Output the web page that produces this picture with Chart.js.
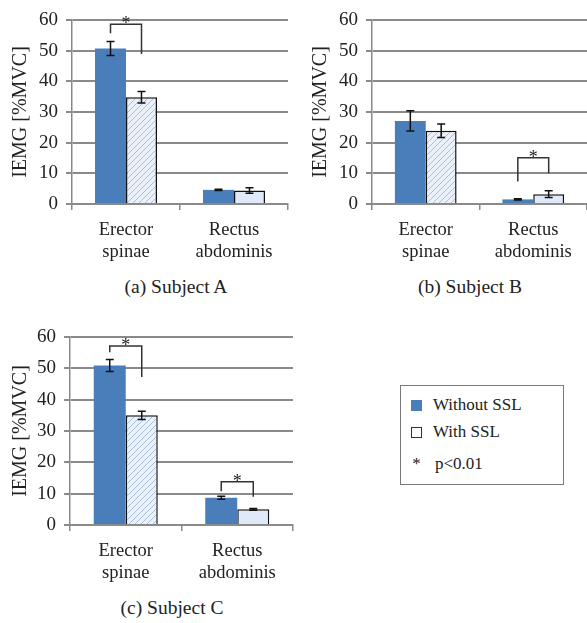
<!DOCTYPE html>
<html>
<head>
<meta charset="utf-8">
<script src="https://cdn.jsdelivr.net/npm/chart.js@4/dist/chart.umd.min.js"></script>
<style>
  body { margin: 0; background: #fff; font-family: "Liberation Serif", "Times New Roman", serif; color: #222; }
  .wrap { position: relative; width: 587px; height: 623px; overflow: hidden; }
  .wrap canvas { position: absolute; }
  .sub { position: absolute; font-size: 19.5px; line-height: 22px; text-align: center; width: 200px; }
  .legend { position: absolute; left: 400px; top: 385px; width: 164px; height: 100px; border: 1.5px solid #7a7a7a; box-sizing: border-box; font-size: 17px; }
  .legend .row { position: absolute; left: 10px; display: flex; align-items: center; }
  .legend .sw { width: 11px; height: 11px; margin-right: 11px; box-sizing: border-box; }
</style>
</head>
<body>
<div class="wrap">
  <canvas id="chartA" style="left:0;top:0"></canvas>
  <canvas id="chartB" style="left:300px;top:0"></canvas>
  <canvas id="chartC" style="left:0;top:317px"></canvas>
  <div class="sub" style="left:76px;top:276px">(a) Subject A</div>
  <div class="sub" style="left:370px;top:276px">(b) Subject B</div>
  <div class="sub" style="left:72px;top:597px">(c) Subject C</div>
  <div class="legend">
    <div class="row" style="top:9px"><span class="sw" style="background:#4a7ebb"></span>Without SSL</div>
    <div class="row" style="top:36px"><span class="sw" style="background:#fff;border:1.3px solid #333"></span>With SSL</div>
    <div class="row" style="top:68px"><span style="width:11px;margin-right:13px;text-align:center">*</span>p&lt;0.01</div>
  </div>
</div>
<script>
const categories = [['Erector', 'spinae'], ['Rectus', 'abdominis']];
const seriesNames = ['Without SSL', 'With SSL'];
const yTicks = [0, 10, 20, 30, 40, 50, 60];

// subject A
const withoutA = [50.7, 4.6];
const withoutErrA = [2.3, 0.2];
const withA = [34.8, 4.4];
const withErrA = [1.9, 0.9];
// [category, left leg bottom, bracket top, right leg bottom]
const sigA = [[0, 55.7, 58.6, 48.9]];

// subject B
const withoutB = [27.1, 1.5];
const withoutErrB = [3.3, 0.2];
const withB = [23.9, 3.2];
const withErrB = [2.2, 1.1];
const sigB = [[1, 7.3, 15.1, 10.0]];

// subject C
const withoutC = [50.9, 8.7];
const withoutErrC = [1.9, 0.5];
const withC = [35.0, 5.0];
const withErrC = [1.3, 0.3];
const sigC = [[0, 55.1, 57.1, 47.2], [1, 10.8, 13.8, 9.0]];

const blue = '#4a7ebb';
const lightBlue = '#dfe9f7';
const gridGray = '#8a8a8a';
const fontFamily = '"Liberation Serif", "Times New Roman", serif';

function hatch() {
  const c = document.createElement('canvas');
  c.width = 6; c.height = 6;
  const g = c.getContext('2d');
  g.fillStyle = '#eaf1fa';
  g.fillRect(0, 0, 6, 6);
  g.strokeStyle = '#a8c0de';
  g.lineWidth = 1;
  g.beginPath();
  g.moveTo(0, 6); g.lineTo(6, 0);
  g.moveTo(-3, 3); g.lineTo(3, -3);
  g.moveTo(3, 9); g.lineTo(9, 3);
  g.stroke();
  return g.createPattern(c, 'repeat');
}

// error bars + significance brackets
const extrasPlugin = {
  id: 'extras',
  afterDatasetsDraw(chart) {
    const ctx = chart.ctx;
    const y = chart.scales.y;
    const errs = chart.options.plugins.extras.errors;
    ctx.save();
    ctx.strokeStyle = '#111';
    ctx.lineWidth = 1.5;
    chart.data.datasets.forEach((ds, di) => {
      chart.getDatasetMeta(di).data.forEach((bar, i) => {
        const v = ds.data[i], e = errs[di][i];
        const yt = y.getPixelForValue(v + e), yb = y.getPixelForValue(v - e);
        ctx.beginPath();
        ctx.moveTo(bar.x, yt); ctx.lineTo(bar.x, yb);
        ctx.moveTo(bar.x - 4, yt); ctx.lineTo(bar.x + 4, yt);
        ctx.moveTo(bar.x - 4, yb); ctx.lineTo(bar.x + 4, yb);
        ctx.stroke();
      });
    });
    ctx.strokeStyle = '#333';
    ctx.lineWidth = 1.5;
    ctx.fillStyle = '#222';
    ctx.font = '18px ' + fontFamily;
    ctx.textAlign = 'center';
    ctx.textBaseline = 'alphabetic';
    chart.options.plugins.extras.sig.forEach(s => {
      const x1 = chart.getDatasetMeta(0).data[s[0]].x;
      const x2 = chart.getDatasetMeta(1).data[s[0]].x;
      const yl = y.getPixelForValue(s[1]), yt = y.getPixelForValue(s[2]), yr = y.getPixelForValue(s[3]);
      ctx.beginPath();
      ctx.moveTo(x1, yl); ctx.lineTo(x1, yt); ctx.lineTo(x2, yt); ctx.lineTo(x2, yr);
      ctx.stroke();
      ctx.fillText('*', (x1 + x2) / 2, yt + 5);
    });
    ctx.restore();
  }
};

function makeChart(id, w, h, yWidth, padRight, without, withVals, errWithout, errWith, sig) {
  const el = document.getElementById(id);
  el.width = w; el.height = h;
  el.style.width = w + 'px'; el.style.height = h + 'px';
  return new Chart(el, {
    type: 'bar',
    data: {
      labels: categories,
      datasets: [
        { label: seriesNames[0], data: without, backgroundColor: blue, borderWidth: 0 },
        { label: seriesNames[1], data: withVals, backgroundColor: [hatch(), lightBlue], borderColor: '#111', borderWidth: 1.5 }
      ]
    },
    options: {
      responsive: false,
      animation: false,
      layout: { padding: { top: 20, right: padRight, left: 0, bottom: 0 } },
      datasets: { bar: { categoryPercentage: 0.574, barPercentage: 1.0 } },
      plugins: {
        legend: { display: false },
        tooltip: { enabled: false },
        extras: { errors: [errWithout, errWith], sig: sig }
      },
      scales: {
        x: {
          grid: { display: true, drawOnChartArea: false, drawTicks: true, tickLength: 6, color: gridGray, lineWidth: 1.5 },
          border: { display: true, color: gridGray, width: 2 },
          ticks: { color: '#222', font: { family: fontFamily, size: 18.5, lineHeight: 1.2 }, padding: 9, maxRotation: 0 },
          afterFit: s => { s.height = 60; }
        },
        y: {
          min: 0, max: 60,
          afterBuildTicks: s => { s.ticks = yTicks.map(v => ({ value: v })); },
          grid: { color: gridGray, lineWidth: 2, tickLength: 6, drawTicks: true },
          border: { display: true, color: gridGray, width: 1.5 },
          ticks: { color: '#222', font: { family: fontFamily, size: 19 }, padding: 8 },
          title: { display: true, text: 'IEMG [%MVC]', color: '#222', font: { family: fontFamily, size: 20 }, padding: { top: 9, bottom: 0 } },
          afterFit: s => { s.width = yWidth; }
        }
      }
    },
    plugins: [extrasPlugin]
  });
}

makeChart('chartA', 295, 264, 72, 7, withoutA, withA, withoutErrA, withErrA, sigA);
makeChart('chartB', 287, 264, 72, 0, withoutB, withB, withoutErrB, withErrB, sigB);
makeChart('chartC', 300, 268, 70, 7, withoutC, withC, withoutErrC, withErrC, sigC);
</script>
</body>
</html>
